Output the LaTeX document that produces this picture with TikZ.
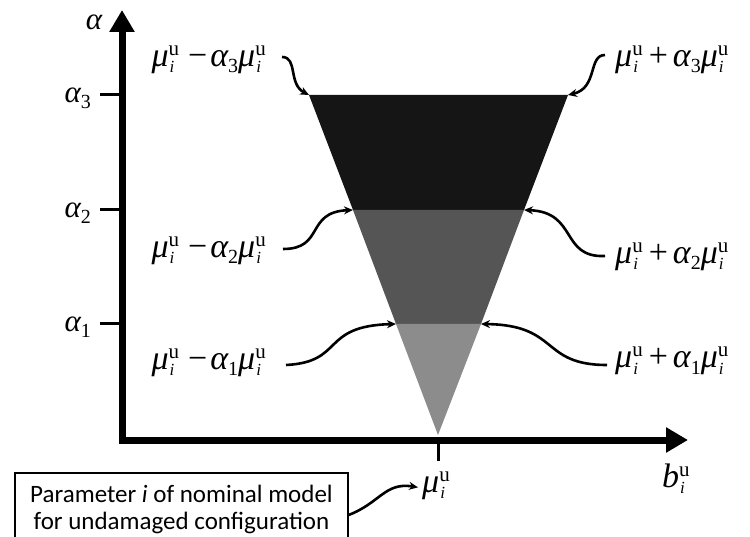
\documentclass[tikz,border=0pt]{standalone}
\usepackage{fontspec}
\newfontfamily\boxfont{Carlito}
\newfontfamily\tms{Liberation Serif}
\newcommand{\SubSup}[2]{%
  \makebox[0pt][l]{\hspace{1pt}\raisebox{-6pt}{\fontsize{17}{17}\selectfont\tms\itshape #1}}%
  \raisebox{11pt}{\fontsize{21}{21}\selectfont\tms #2}}
\newcommand{\muu}{{\tms\itshape μ}\SubSup{i}{u}}
\newcommand{\alp}[1]{{\tms\itshape α}\raisebox{-6pt}{\fontsize{20}{20}\selectfont\tms #1}}
\newcommand{\opm}{\hspace{9pt}{\tms −}\hspace{3pt}}
\newcommand{\opp}{\hspace{6pt}{\tms +}\hspace{5pt}}
\usetikzlibrary{arrows.meta}
\definecolor{topc}{RGB}{21,21,21}
\definecolor{midc}{RGB}{85,85,85}
\definecolor{lowc}{RGB}{140,140,140}
\tikzset{
  mlabel/.style={font=\fontsize{34}{36}\selectfont\tms, inner sep=0pt},
  alabel/.style={font=\fontsize{31}{33}\selectfont\tms, inner sep=0pt},
  curly/.style={line width=2.6pt, -{Stealth[length=9pt,width=8pt]}},
  axis/.style={line width=7pt, line join=miter},
  tickline/.style={line width=3pt},
}
\begin{document}
\begin{tikzpicture}[x=1pt,y=-1pt]
\useasboundingbox (0,0) rectangle (750,537);
% triangle bands
\coordinate (tl) at (309,95);
\coordinate (tr) at (568,95);
\coordinate (ml) at (353,210);
\coordinate (mr) at (524,210);
\coordinate (ll) at (396,324);
\coordinate (lr) at (481,324);
\coordinate (apex) at (438,435);
\fill[topc] (tl) -- (tr) -- (mr) -- (ml) -- cycle;
\fill[midc] (ml) -- (mr) -- (lr) -- (ll) -- cycle;
\fill[lowc] (ll) -- (lr) -- (apex) -- cycle;
% axes
\coordinate (origin) at (122,440);
\coordinate (ytop) at (122,10);
\coordinate (xend) at (688,440);
\draw[axis, {Triangle[width=24pt,length=22pt]}-{Triangle[width=24pt,length=22pt]}] (ytop) -- (origin) -- (xend);
% ticks
\coordinate (t3) at (100,95);
\coordinate (t2) at (100,210);
\coordinate (t1) at (100,324);
\coordinate (tm) at (438,461);
\draw[tickline] (t3) -- (122,95);
\draw[tickline] (t2) -- (122,210);
\draw[tickline] (t1) -- (122,324);
\draw[tickline] (438,440) -- (tm);
% axis labels
\node[alabel, anchor=base] (alpha) at (94,30) {\itshape α};
\node[alabel, anchor=base east] (a3) at (91,103) {\alp{3}};
\node[alabel, anchor=base east] (a2) at (91,218) {\alp{2}};
\node[alabel, anchor=base east] (a1) at (91,332) {\alp{1}};
\node[mlabel, anchor=base west] (mu) at (422,492) {\muu};
\node[mlabel, anchor=base west] (b) at (662,487) {{\itshape b}\SubSup{i}{u}};
% interval labels
\node[mlabel, anchor=base east] (lm3) at (266,67) {\muu\opm\alp{3}\muu};
\node[mlabel, anchor=base east] (lm2) at (266,258) {\muu\opm\alp{2}\muu};
\node[mlabel, anchor=base east] (lm1) at (266,370) {\muu\opm\alp{1}\muu};
\node[mlabel, anchor=base west] (rp3) at (615,67) {\muu\opp\alp{3}\muu};
\node[mlabel, anchor=base west] (rp2) at (615,264) {\muu\opp\alp{2}\muu};
\node[mlabel, anchor=base west] (rp1) at (615,368) {\muu\opp\alp{1}\muu};
% arrow start points beside the labels
\coordinate (s3l) at (282,57);
\coordinate (s3r) at (605,55);
\coordinate (s2l) at (283,249);
\coordinate (s2r) at (605,256);
\coordinate (s1l) at (286,365);
\coordinate (s1r) at (607,365);
% curly arrows
\draw[curly] (s3l) .. controls (298,57) and (288,84) .. (tl);
\draw[curly] (s3r) .. controls (588,55) and (598,88) .. (tr);
\draw[curly] (s2l) .. controls (325,249) and (305,212) .. (ml);
\draw[curly] (s2r) .. controls (560,258) and (578,212) .. (mr);
\draw[curly] (s1l) .. controls (345,362) and (320,326) .. (ll);
\draw[curly] (s1r) .. controls (540,365) and (560,325) .. (lr);
% box
\node[draw, line width=1.2pt, minimum width=333pt, minimum height=72pt, inner sep=0pt,
      align=center, font=\boxfont\fontsize{25}{27}\selectfont] (box) at (181.5,509)
      {Parameter \textit{i} of nominal model\\for undamaged configuration};
\draw[curly] ([yshift=-6pt]box.east) .. controls (380,503) and (385,482) .. ([xshift=-4pt,yshift=-2pt]mu.west);
\end{tikzpicture}
\end{document}
